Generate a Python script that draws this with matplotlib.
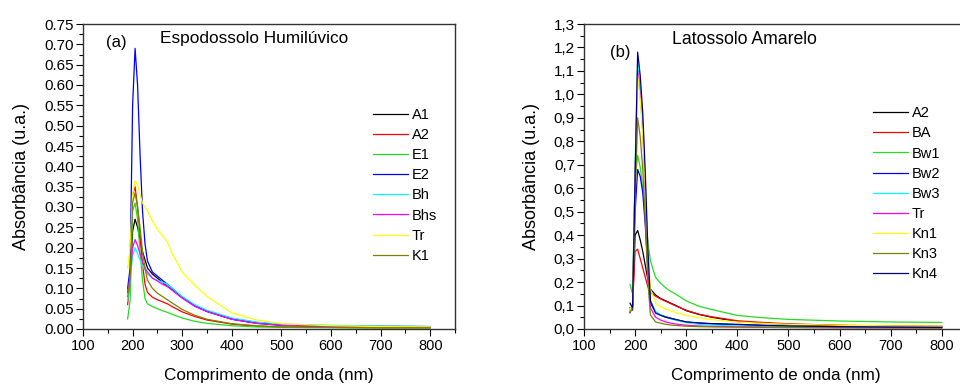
import matplotlib
matplotlib.use("Agg")
import matplotlib.pyplot as plt
from matplotlib.ticker import MultipleLocator, FuncFormatter

plt.rcParams['font.family'] = ['Liberation Sans', 'DejaVu Sans']

wl = [190, 195, 200, 205, 210, 215, 220, 225, 230, 240, 250, 260, 270, 280,
      300, 325, 350, 400, 450, 500, 600, 700, 800]

# painel (a) Espodossolo Humiluvico
a_names = ["A1", "A2", "E1", "E2", "Bh", "Bhs", "Tr", "K1"]
a_A1 = [0.09, 0.12, 0.24, 0.27, 0.25, 0.22, 0.19, 0.17, 0.15, 0.135, 0.125, 0.115,
        0.105, 0.097, 0.077, 0.057, 0.043, 0.024, 0.014, 0.009, 0.006, 0.005, 0.004]
a_A2 = [0.06, 0.12, 0.33, 0.35, 0.30, 0.23, 0.16, 0.11, 0.09, 0.078, 0.072, 0.067,
        0.062, 0.055, 0.042, 0.031, 0.022, 0.012, 0.007, 0.005, 0.004, 0.003, 0.003]
a_E1 = [0.025, 0.07, 0.29, 0.31, 0.27, 0.19, 0.12, 0.075, 0.062, 0.055, 0.05, 0.045,
        0.041, 0.036, 0.027, 0.019, 0.014, 0.008, 0.005, 0.004, 0.003, 0.003, 0.003]
a_E2 = [0.10, 0.15, 0.55, 0.69, 0.60, 0.43, 0.29, 0.21, 0.167, 0.14, 0.13, 0.12,
        0.11, 0.10, 0.078, 0.058, 0.044, 0.026, 0.016, 0.011, 0.008, 0.007, 0.006]
a_Bh = [0.07, 0.12, 0.18, 0.20, 0.185, 0.17, 0.155, 0.145, 0.135, 0.125, 0.12, 0.115,
        0.11, 0.10, 0.08, 0.06, 0.046, 0.027, 0.017, 0.012, 0.009, 0.007, 0.006]
a_Bhs = [0.09, 0.13, 0.20, 0.22, 0.205, 0.185, 0.165, 0.15, 0.14, 0.125, 0.118, 0.11,
         0.105, 0.095, 0.076, 0.056, 0.043, 0.024, 0.014, 0.009, 0.006, 0.005, 0.004]
a_Tr = [0.15, 0.20, 0.33, 0.365, 0.355, 0.33, 0.31, 0.30, 0.29, 0.265, 0.245, 0.23,
        0.215, 0.185, 0.14, 0.108, 0.08, 0.04, 0.022, 0.013, 0.008, 0.006, 0.005]
a_K1 = [0.08, 0.12, 0.31, 0.335, 0.30, 0.25, 0.19, 0.15, 0.12, 0.10, 0.088, 0.08,
        0.072, 0.064, 0.048, 0.034, 0.024, 0.013, 0.008, 0.005, 0.004, 0.003, 0.003]
a_colors = ["black", "#ff0000", "#22dd22", "#0000ff", "#00ffff", "#ff00ff",
            "#ffff00", "#808000"]

# painel (b) Latossolo Amarelo
b_names = ["A2", "BA", "Bw1", "Bw2", "Bw3", "Tr", "Kn1", "Kn3", "Kn4"]
b_A2 = [0.07, 0.10, 0.40, 0.42, 0.38, 0.33, 0.27, 0.21, 0.17, 0.145, 0.13, 0.12,
        0.11, 0.10, 0.078, 0.062, 0.05, 0.032, 0.025, 0.02, 0.015, 0.012, 0.01]
b_BA = [0.08, 0.10, 0.33, 0.34, 0.30, 0.26, 0.22, 0.18, 0.155, 0.14, 0.128, 0.118,
        0.108, 0.098, 0.08, 0.063, 0.052, 0.035, 0.028, 0.022, 0.016, 0.013, 0.012]
b_Bw1 = [0.19, 0.15, 0.64, 0.74, 0.69, 0.60, 0.48, 0.37, 0.29, 0.22, 0.195, 0.175,
         0.16, 0.148, 0.12, 0.097, 0.083, 0.058, 0.048, 0.041, 0.034, 0.03, 0.028]
b_Bw2 = [0.09, 0.08, 0.50, 0.68, 0.65, 0.58, 0.44, 0.25, 0.11, 0.072, 0.06, 0.052,
         0.046, 0.04, 0.03, 0.025, 0.022, 0.018, 0.015, 0.012, 0.01, 0.008, 0.007]
b_Bw3 = [0.08, 0.10, 0.70, 1.14, 1.04, 0.88, 0.62, 0.32, 0.12, 0.075, 0.06, 0.05,
         0.043, 0.037, 0.027, 0.02, 0.017, 0.013, 0.011, 0.01, 0.008, 0.007, 0.006]
b_Tr = [0.07, 0.10, 0.65, 1.10, 1.00, 0.84, 0.58, 0.28, 0.09, 0.05, 0.038, 0.03,
        0.025, 0.021, 0.016, 0.013, 0.011, 0.009, 0.008, 0.007, 0.006, 0.005, 0.005]
b_Kn1 = [0.08, 0.11, 0.62, 1.08, 0.98, 0.83, 0.60, 0.33, 0.17, 0.11, 0.095, 0.085,
         0.077, 0.07, 0.058, 0.048, 0.04, 0.03, 0.024, 0.02, 0.016, 0.013, 0.012]
b_Kn3 = [0.07, 0.09, 0.55, 0.90, 0.82, 0.68, 0.46, 0.20, 0.06, 0.03, 0.025, 0.02,
         0.017, 0.015, 0.012, 0.01, 0.009, 0.008, 0.007, 0.006, 0.005, 0.005, 0.004]
b_Kn4 = [0.11, 0.09, 0.65, 1.18, 1.08, 0.92, 0.66, 0.34, 0.12, 0.068, 0.058, 0.05,
         0.045, 0.04, 0.03, 0.026, 0.023, 0.02, 0.016, 0.013, 0.01, 0.008, 0.007]
b_colors = ["black", "#ff0000", "#22dd22", "#0000ff", "#00ffff", "#ff00ff",
            "#ffff00", "#808000", "#000080"]


def style_axes(ax, ymax, ymaj, ymin, fmt):
    ax.set_xlim(100, 850)
    ax.set_ylim(0, ymax)
    ax.xaxis.set_major_locator(MultipleLocator(100))
    ax.xaxis.set_minor_locator(MultipleLocator(50))
    ax.yaxis.set_major_locator(MultipleLocator(ymaj))
    ax.yaxis.set_minor_locator(MultipleLocator(ymin))
    ax.yaxis.set_major_formatter(FuncFormatter(fmt))
    ax.tick_params(which="major", direction="out", length=5, width=0.8,
                   labelsize=10.5, top=False, right=False, pad=2)
    ax.tick_params(axis="y", which="major", labelsize=11, pad=1.5)
    ax.tick_params(which="minor", direction="out", length=3, width=0.8,
                   top=False, right=False)
    for s in ax.spines.values():
        s.set_color("#333333")
        s.set_linewidth(1.0)
    ax.set_xlabel("Comprimento de onda (nm)", fontsize=12.3, labelpad=11)
    ax.set_ylabel("Absorbância (u.a.)", fontsize=13, labelpad=10)


fig = plt.figure(figsize=(9.6, 3.85), dpi=100)

ax1 = fig.add_axes([83 / 960, 56 / 385, 372 / 960, 305 / 385])
for name, d, c in zip(a_names, [a_A1, a_A2, a_E1, a_E2, a_Bh, a_Bhs, a_Tr, a_K1], a_colors):
    ax1.plot(wl, d, color=c, lw=0.9, label=name)
style_axes(ax1, 0.75, 0.05, 0.025, lambda v, p: "%.2f" % v)
ax1.text(0.089, 0.938, "(a)", transform=ax1.transAxes, ha="center", va="center", fontsize=12)
ax1.text(0.207, 0.954, "Espodossolo Humilúvico", transform=ax1.transAxes,
         ha="left", va="center", fontsize=12.4)
ax1.legend(loc="upper left", bbox_to_anchor=(0.78, 0.725), frameon=False, fontsize=10.5,
           handlelength=2.4, handletextpad=0.25, labelspacing=0.42, borderpad=0,
           borderaxespad=0)

ax2 = fig.add_axes([584 / 960, 56 / 385, 383.3 / 960, 305 / 385])
for name, d, c in zip(b_names, [b_A2, b_BA, b_Bw1, b_Bw2, b_Bw3, b_Tr, b_Kn1, b_Kn3, b_Kn4], b_colors):
    ax2.plot(wl, d, color=c, lw=0.9, label=name)
style_axes(ax2, 1.3, 0.1, 0.05, lambda v, p: ("%.1f" % v).replace(".", ","))
ax2.text(0.094, 0.905, "(b)", transform=ax2.transAxes, ha="center", va="center", fontsize=12)
ax2.text(0.23, 0.948, "Latossolo Amarelo", transform=ax2.transAxes,
         ha="left", va="center", fontsize=12.7)
ax2.legend(loc="upper left", bbox_to_anchor=(0.754, 0.73), frameon=False, fontsize=10.5,
           handlelength=2.4, handletextpad=0.25, labelspacing=0.42, borderpad=0,
           borderaxespad=0)

fig.savefig("out.png", dpi=100)
